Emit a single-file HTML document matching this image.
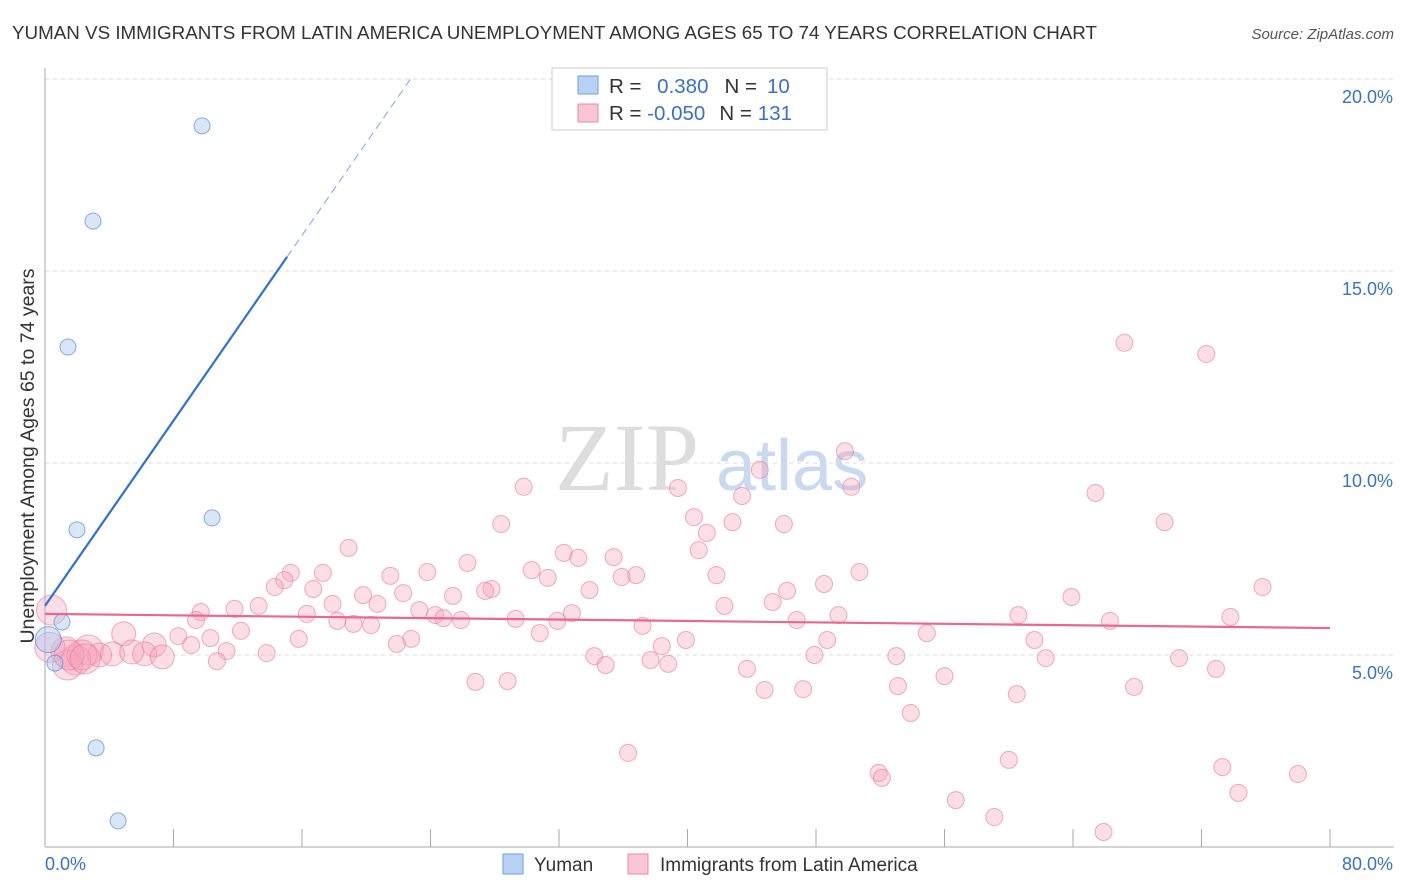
<!DOCTYPE html>
<html><head><meta charset="utf-8">
<style>
body{margin:0;background:#fff;font-family:"Liberation Sans",sans-serif;}
svg{display:block}
</style></head>
<body>
<svg id="chart" width="1406" height="892" xmlns="http://www.w3.org/2000/svg">
<text x="12" y="39" font-size="18.8" fill="#333">YUMAN VS IMMIGRANTS FROM LATIN AMERICA UNEMPLOYMENT AMONG AGES 65 TO 74 YEARS CORRELATION CHART</text>
<text x="1394" y="39" font-size="15" fill="#555" font-style="italic" text-anchor="end">Source: ZipAtlas.com</text>
<g>
<text x="555" y="490" font-size="96" fill="#ddd" font-family="Liberation Serif,serif">ZIP</text>
<text x="716" y="490" font-size="72" fill="#c9d9f0">atlas</text>
</g>
<g id="grid"></g>
<g id="axes"></g>
<g id="pts"></g>
<g id="trend"></g>
<text transform="translate(34,456) rotate(-90)" font-size="19.5" fill="#333" text-anchor="middle">Unemployment Among Ages 65 to 74 years</text>
<g>
<rect x="552" y="68" width="275" height="62" fill="#fff" stroke="#ccc"/>
<rect x="578" y="76" width="20" height="18" fill="#b9d1f3" stroke="#6f9fdf"/>
<text x="609" y="93" font-size="20.5" fill="#333">R = <tspan fill="#3a6fd0" dx="10">0.380</tspan><tspan fill="#333" dx="16">N =</tspan><tspan fill="#3a6fd0" dx="10">10</tspan></text>
<rect x="578" y="104" width="20" height="18" fill="#f9c6d5" stroke="#e88aa8"/>
<text x="609" y="120" font-size="20.5" fill="#333">R = <tspan fill="#3a6fd0">-0.050</tspan><tspan fill="#333" dx="14">N =</tspan><tspan fill="#3a6fd0" dx="6">131</tspan></text>
</g>
<g>
<rect x="503" y="854" width="20" height="20" fill="#b9d1f3" stroke="#6f9fdf"/>
<text x="534" y="871" font-size="19" fill="#333">Yuman</text>
<rect x="628" y="854" width="20" height="20" fill="#f9c6d5" stroke="#e88aa8"/>
<text x="660" y="871" font-size="19" fill="#333">Immigrants from Latin America</text>
</g>
</svg>
<script>
const yTicks=[5,10,15,20];
const yTickLabels=["5.0%","10.0%","15.0%","20.0%"];
const xTicks=[0,8,16,24,32,40,48,56,64,72,80];
const xEndLabels=["0.0%","80.0%"];
const yumanX=[9.78,2.99,1.43,1.99,10.4,1.06,0.62,3.18,4.55,0.2];
const yumanY=[18.78,16.30,13.02,8.26,8.57,5.86,4.79,2.58,0.68,5.4];
const immX=[67.2,72.3,49.8,44.5,50.2,29.8,39.4,43.4,65.4,40.4,42.8,46.0,28.4,69.7,41.2,40.7,18.9,32.3,35.4,33.2,26.3,30.3,17.3,15.3,23.8,21.5,31.3,36.8,35.9,41.8,50.7,14.9,14.3,48.5,75.8,27.8,16.7,27.4,33.9,46.2,22.3,63.9,19.8,25.4,17.9,45.3,20.7,42.3,13.3,11.8,9.7,16.3,23.3,32.8,24.3,49.4,60.6,73.8,24.8,9.4,29.3,25.9,31.9,46.8,18.2,66.3,19.2,20.3,37.2,12.2,54.9,30.8,4.9,8.3,10.3,15.8,22.8,61.6,39.9,48.7,6.8,9.1,21.9,38.4,0.4,1.3,2.7,3.4,4.2,5.4,6.2,13.8,11.3,47.9,34.2,53.0,70.6,62.3,7.3,10.7,37.7,34.9,38.8,1.9,1.4,2.3,43.7,72.9,56.0,26.8,28.8,53.1,67.8,44.8,47.2,60.5,53.9,36.3,60.0,51.9,73.3,78.0,52.1,74.3,56.7,59.1,65.9,0.3,1.5,2.5];
const immY=[13.13,12.84,10.31,9.82,9.38,9.38,9.35,9.14,9.22,8.59,8.46,8.41,8.41,8.46,8.18,7.73,7.79,7.66,7.55,7.53,7.40,7.21,7.14,7.14,7.16,7.06,7.01,7.08,7.03,7.08,7.16,6.95,6.77,6.85,6.77,6.72,6.72,6.67,6.69,6.67,6.61,6.51,6.56,6.54,6.33,6.38,6.33,6.28,6.28,6.20,6.12,6.07,6.17,6.09,6.04,6.04,6.04,5.99,5.96,5.91,5.94,5.91,5.89,5.91,5.89,5.89,5.81,5.78,5.76,5.63,5.57,5.57,5.55,5.49,5.44,5.42,5.42,5.39,5.39,5.39,5.26,5.26,5.29,5.23,6.17,5.08,5.13,5.0,5.03,5.08,5.03,5.05,5.10,5.0,4.97,4.97,4.92,4.92,4.95,4.84,4.87,4.74,4.77,4.87,4.74,5.0,4.64,4.64,4.45,4.30,4.32,4.19,4.17,4.09,4.11,3.98,3.49,2.45,2.27,1.93,2.08,1.90,1.80,1.41,1.22,0.78,0.39,5.2,5.0,4.9];
const yumanTrend=[6.28,0.603];
const immTrend=[6.07,-0.0046];

const NS="http://www.w3.org/2000/svg";
const X0=45,X1=1330,Y0=847,YS=38.4;
const sx=v=>X0+v*(X1-X0)/80;
const sy=v=>Y0-v*YS;
function mk(tag,attrs,parent){const e=document.createElementNS(NS,tag);for(const k in attrs)e.setAttribute(k,attrs[k]);parent.appendChild(e);return e;}
const gridG=document.getElementById('grid'),axesG=document.getElementById('axes'),ptsG=document.getElementById('pts'),trendG=document.getElementById('trend');
yTicks.forEach((t,i)=>{
  const l=mk('line',{x1:X0,x2:1394,y1:sy(t),y2:sy(t),stroke:'#ddd','stroke-dasharray':'4,4'},gridG);
  
  
  const tx=mk('text',{x:1393,y:sy(t)+24,'font-size':18,fill:'#3a6fd0','text-anchor':'end'},axesG);
  tx.textContent=yTickLabels[i];
  
  
});
const topGrid=mk('line',{x1:X0,x2:1394,y1:79,y2:79,stroke:'#ddd','stroke-dasharray':'4,4'},gridG);


const xAxisLine=mk('line',{x1:X0,x2:1394,y1:Y0,y2:Y0,stroke:'#aaa'},axesG);


const yAxisLine=mk('line',{x1:X0,x2:X0,y1:68,y2:Y0,stroke:'#aaa'},axesG);


xTicks.forEach(t=>{
  const l=mk('line',{x1:sx(t),x2:sx(t),y1:Y0,y2:Y0-18,stroke:'#aaa'},axesG);
  
  
});
[[0,'start',45],[80,'end',1393]].forEach((p,i)=>{
  const tx=mk('text',{x:p[2],y:870,'font-size':18,fill:'#3a6fd0','text-anchor':p[1]},axesG);
  tx.textContent=xEndLabels[i];
  
  
});
immX.forEach((x,i)=>{
  let r=8.5; if(x<8) r=12; if(x<3) r=15;
  const c=mk('circle',{cx:sx(x),cy:sy(immY[i]),r:r,fill:'rgba(245,160,185,0.35)',stroke:'rgba(230,120,155,0.6)','stroke-width':1},ptsG);
  
  
});
yumanX.forEach((x,i)=>{
  const r=i==9?13:8;
  const c=mk('circle',{cx:sx(x),cy:sy(yumanY[i]),r:r,fill:'rgba(170,200,240,0.45)',stroke:'rgba(90,140,215,0.7)','stroke-width':1},ptsG);
  
  
});
const xs=15.07, xe=(20-yumanTrend[0])/yumanTrend[1];
const bl=mk('line',{x1:sx(0),y1:sy(yumanTrend[0]),x2:sx(xs),y2:sy(yumanTrend[0]+yumanTrend[1]*xs),stroke:'#2f6fd6','stroke-width':2.2},trendG);


const bd=mk('line',{x1:sx(xs),y1:sy(yumanTrend[0]+yumanTrend[1]*xs),x2:sx(xe),y2:sy(20),stroke:'#7fa5e0','stroke-width':1,'stroke-dasharray':'8,5'},trendG);


const pl=mk('line',{x1:sx(0),y1:sy(immTrend[0]),x2:sx(80),y2:sy(immTrend[0]+immTrend[1]*80),stroke:'#e8688f','stroke-width':2.2},trendG);


</script>
</body></html>
